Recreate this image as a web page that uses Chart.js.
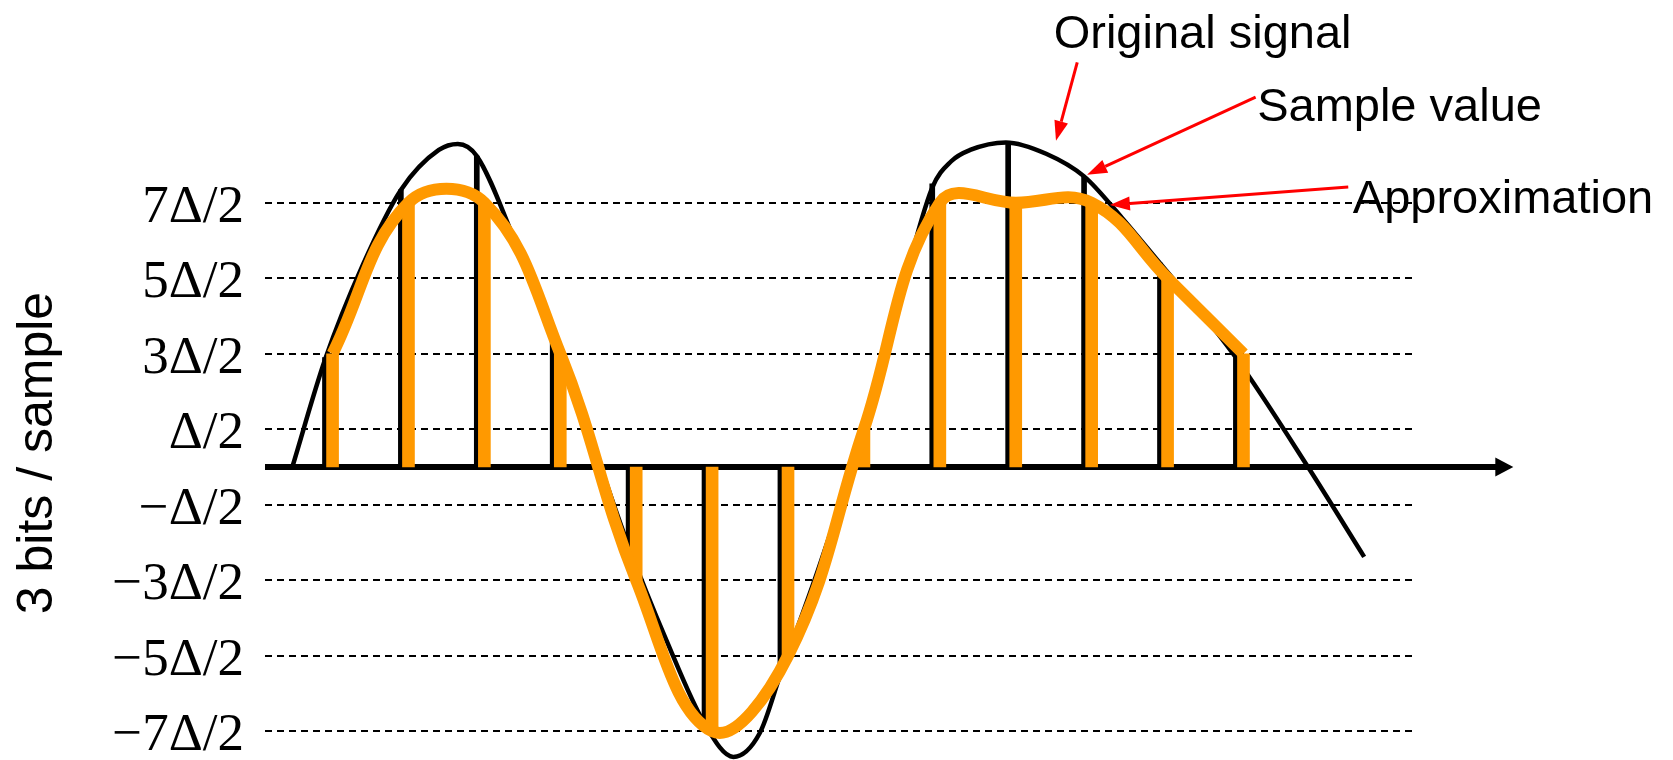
<!DOCTYPE html>
<html>
<head>
<meta charset="utf-8">
<title>PCM quantisation</title>
<script src="https://cdn.jsdelivr.net/npm/chart.js@4.4.1/dist/chart.umd.min.js"></script>
<style>
  html, body { margin: 0; padding: 0; background: #fff; }
</style>
</head>
<body>
<canvas id="pcmChart" width="1673" height="760"></canvas>
<script>
// Sample positions (sample index) and values, in units of Δ
const sampleIndex = [0, 1, 2, 3, 4, 5, 6, 7, 8, 9, 10, 11, 12];
const sampleValues = [1.45, 3.67, 4.12, 1.72, -1.05, -3.4, -2.75, 0.2, 3.75, 4.3, 3.85, 2.7, 1.45];
const quantValues = [1.5, 3.5, 3.5, 1.5, -1.5, -3.5, -2.5, 0.5, 3.5, 3.5, 3.5, 2.5, 1.5];

// Original signal
const signalX = [-0.43, 0, 0.5, 1, 1.5, 1.75, 2, 2.5, 3, 3.5, 4, 4.5, 5, 5.38, 5.73, 6, 6.5, 6.94, 7.5, 8, 8.25, 8.5, 8.97, 9.5, 10, 10.5, 11, 11.5, 12, 12.95, 13.69];
const signalY = [0, 1.42, 2.68, 3.67, 4.2, 4.28, 4.12, 3.0, 1.72, 0.38, -1.05, -2.3, -3.4, -3.84, -3.52, -2.75, -1.35, 0, 1.95, 3.7, 4.05, 4.2, 4.3, 4.15, 3.85, 3.3, 2.7, 2.1, 1.45, 0, -1.19];

// Quantisation levels on the y axis
const tickValues = [-3.5, -2.5, -1.5, -0.5, 0.5, 1.5, 2.5, 3.5];
const tickLabels = ['\u22127\u0394/2', '\u22125\u0394/2', '\u22123\u0394/2', '\u2212\u0394/2', '\u0394/2', '3\u0394/2', '5\u0394/2', '7\u0394/2'];

// Callout labels with red arrows (data units)
const calloutText = ['Original signal', 'Sample value', 'Approximation'];
const calloutTextAt = [[9.60, 5.55], [12.28, 4.58], [13.54, 3.36]];
const calloutFrom = [[9.91, 5.36], [12.26, 4.90], [13.48, 3.71]];
const calloutTo = [[9.63, 4.32], [10.04, 3.87], [10.34, 3.47]];

const xMin = -0.79, xMax = 14.32;
const axisEnd = 15.51;
const stemShift = 0.1; // orange stems sit just right of the black ones

const orange = '#FF9900';

// red arrows + text labels, and the head of the time axis
const calloutPlugin = {
    id: 'callouts',
    afterDatasetsDraw(chart) {
        const { ctx, scales: { x, y } } = chart;
        ctx.save();

        // arrow head on the time axis
        const axisMeta = chart.getDatasetMeta(4);
        const endPt = axisMeta.data[axisMeta.data.length - 1];
        ctx.fillStyle = '#000';
        ctx.beginPath();
        ctx.moveTo(endPt.x + 11, endPt.y);
        ctx.lineTo(endPt.x - 7, endPt.y - 9.5);
        ctx.lineTo(endPt.x - 7, endPt.y + 9.5);
        ctx.closePath();
        ctx.fill();

        for (let i = 0; i < calloutText.length; i++) {
            const x0 = x.getPixelForValue(calloutFrom[i][0]);
            const y0 = y.getPixelForValue(calloutFrom[i][1]);
            const x1 = x.getPixelForValue(calloutTo[i][0]);
            const y1 = y.getPixelForValue(calloutTo[i][1]);
            const ang = Math.atan2(y1 - y0, x1 - x0);
            const headLen = 20, headW = 7;
            const bx = x1 - Math.cos(ang) * headLen;
            const by = y1 - Math.sin(ang) * headLen;

            ctx.strokeStyle = '#FF0000';
            ctx.lineWidth = 3;
            ctx.beginPath();
            ctx.moveTo(x0, y0);
            ctx.lineTo(bx, by);
            ctx.stroke();

            ctx.fillStyle = '#FF0000';
            ctx.beginPath();
            ctx.moveTo(x1, y1);
            ctx.lineTo(bx + Math.sin(ang) * headW, by - Math.cos(ang) * headW);
            ctx.lineTo(bx - Math.sin(ang) * headW, by + Math.cos(ang) * headW);
            ctx.closePath();
            ctx.fill();

            ctx.fillStyle = '#000';
            ctx.font = '47px "Liberation Sans", Arial, sans-serif';
            ctx.textAlign = 'left';
            ctx.textBaseline = 'alphabetic';
            ctx.fillText(calloutText[i], x.getPixelForValue(calloutTextAt[i][0]), y.getPixelForValue(calloutTextAt[i][1]));
        }
        ctx.restore();
    }
};

const ctx = document.getElementById('pcmChart').getContext('2d');
new Chart(ctx, {
    type: 'line',
    data: {
        datasets: [
            {
                // approximation curve through the quantised samples
                type: 'line',
                data: sampleIndex.map((k, i) => ({ x: k + stemShift, y: quantValues[i] })),
                borderColor: orange,
                borderWidth: 12,
                tension: 0.4,
                borderJoinStyle: 'round',
                pointRadius: 0,
                clip: false,
                order: 0
            },
            {
                type: 'bar',
                data: sampleIndex.map((k, i) => ({ x: k + stemShift, y: quantValues[i] })),
                backgroundColor: orange,
                barThickness: 12,
                grouped: false,
                clip: false,
                order: 1
            },
            {
                type: 'bar',
                data: sampleIndex.map((k, i) => ({ x: k, y: sampleValues[i] })),
                backgroundColor: '#000',
                barThickness: 5,
                grouped: false,
                clip: false,
                order: 2
            },
            {
                // original signal
                type: 'line',
                data: signalX.map((k, i) => ({ x: k, y: signalY[i] })),
                borderColor: '#000',
                borderWidth: 4.5,
                cubicInterpolationMode: 'monotone',
                pointRadius: 0,
                clip: false,
                order: 3
            },
            {
                // time axis
                type: 'line',
                data: [{ x: xMin, y: 0 }, { x: axisEnd, y: 0 }],
                borderColor: '#000',
                borderWidth: 6,
                pointRadius: 0,
                clip: false,
                order: 4
            }
        ]
    },
    options: {
        responsive: false,
        animation: false,
        devicePixelRatio: 1,
        layout: {
            autoPadding: false,
            padding: { left: 0, right: 261, top: 146, bottom: 0 }
        },
        plugins: {
            legend: { display: false },
            tooltip: { enabled: false }
        },
        scales: {
            x: {
                type: 'linear',
                min: xMin,
                max: xMax,
                offset: false,
                display: false,
                grid: { display: false }
            },
            y: {
                type: 'linear',
                min: -3.881,
                max: 4.252,
                afterBuildTicks: function(scale) {
                    scale.ticks = tickValues.map(v => ({ value: v }));
                },
                afterFit: function(scale) {
                    scale.width = 265;
                    scale.paddingTop = 0;
                    scale.paddingBottom = 0;
                },
                ticks: {
                    autoSkip: false,
                    padding: 21,
                    labelOffset: 5,
                    color: '#000',
                    font: { family: 'Liberation Serif', size: 53 },
                    callback: function(value) {
                        return tickLabels[tickValues.indexOf(value)];
                    }
                },
                grid: {
                    color: '#000',
                    lineWidth: 2,
                    drawTicks: false
                },
                border: { display: false, dash: [7, 5] },
                title: {
                    display: true,
                    text: '3 bits / sample',
                    color: '#000',
                    font: { family: 'Liberation Sans', size: 50 },
                    padding: { top: 8, bottom: 0 }
                }
            }
        }
    },
    plugins: [calloutPlugin]
});
</script>
</body>
</html>
